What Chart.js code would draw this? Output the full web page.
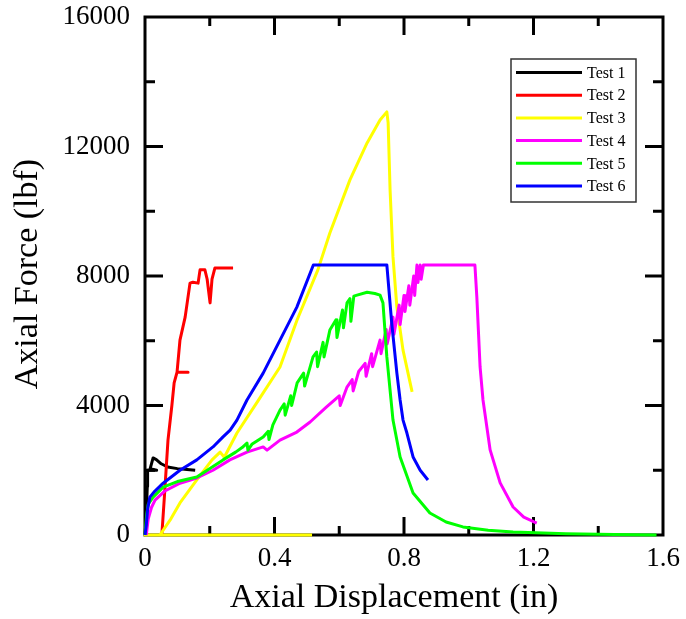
<!DOCTYPE html>
<html>
<head>
<meta charset="utf-8">
<script src="https://cdn.jsdelivr.net/npm/chart.js@4"></script>
<style>
  body { margin: 0; background: #fff; }
  canvas { display: block; }
</style>
</head>
<body>
<canvas id="chart" width="686" height="619"></canvas>
<script>
// series (x = displacement in, y = force lbf)
const testNames = ['Test 1', 'Test 2', 'Test 3', 'Test 4', 'Test 5', 'Test 6'];
const testColors = ['#000000', '#ff0000', '#ffff00', '#ff00ff', '#00ff00', '#0000ff'];

const test1X = [0, 0.004, 0.007, 0.008, 0.036, 0.016, 0.025, 0.035, 0.05, 0.07, 0.1, 0.13, 0.155];
const test1Y = [0, 600, 1500, 2000, 2000, 2050, 2380, 2330, 2200, 2100, 2050, 2020, 2000];

const test2X = [0.052, 0.06, 0.071, 0.083, 0.09, 0.099, 0.133, 0.099, 0.108, 0.124, 0.139, 0.148, 0.164, 0.17, 0.185, 0.192, 0.201, 0.207, 0.216, 0.272];
const test2Y = [0, 1200, 2930, 4000, 4700, 5030, 5030, 5030, 6020, 6730, 7780, 7810, 7780, 8190, 8190, 7900, 7170, 7900, 8250, 8250];

const test3X = [0.516, 0, 0.046, 0.08, 0.108, 0.16, 0.207, 0.232, 0.245, 0.284, 0.35, 0.417, 0.47, 0.534, 0.571, 0.633, 0.686, 0.726, 0.747, 0.751, 0.757, 0.766, 0.778, 0.797, 0.825];
const test3Y = [0, 0, 0, 500, 990, 1700, 2320, 2560, 2400, 3150, 4160, 5190, 6650, 8190, 9330, 10970, 12110, 12820, 13070, 12730, 10660, 8590, 7040, 5710, 4420];

const test4X = [0.004, 0.01, 0.02, 0.031, 0.06, 0.108, 0.16, 0.21, 0.262, 0.315, 0.365, 0.377, 0.417, 0.469, 0.51, 0.56, 0.6, 0.603, 0.624, 0.64, 0.643, 0.66, 0.68, 0.683, 0.7, 0.703, 0.726, 0.729, 0.745, 0.748, 0.766, 0.769, 0.785, 0.788, 0.8, 0.803, 0.815, 0.818, 0.83, 0.833, 0.84, 0.843, 0.85, 0.853, 0.86, 1.019, 1.025, 1.035, 1.044, 1.066, 1.097, 1.137, 1.17, 1.21];
const test4Y = [0, 500, 850, 1080, 1350, 1600, 1760, 2000, 2320, 2560, 2720, 2620, 2930, 3180, 3490, 3950, 4300, 4000, 4570, 4800, 4450, 5050, 5300, 4900, 5600, 5200, 6020, 5600, 6350, 5900, 6730, 6200, 7100, 6500, 7400, 6900, 7700, 7100, 8000, 7400, 8340, 7800, 8340, 7900, 8340, 8340, 7350, 5190, 4170, 2630, 1610, 865, 550, 370];

const test5X = [0, 0.005, 0.01, 0.025, 0.056, 0.1, 0.16, 0.241, 0.28, 0.3, 0.315, 0.318, 0.33, 0.365, 0.38, 0.383, 0.395, 0.417, 0.43, 0.433, 0.45, 0.453, 0.47, 0.49, 0.493, 0.519, 0.53, 0.533, 0.55, 0.553, 0.571, 0.59, 0.593, 0.61, 0.613, 0.624, 0.633, 0.636, 0.645, 0.655, 0.686, 0.71, 0.726, 0.735, 0.747, 0.766, 0.788, 0.828, 0.88, 0.93, 0.982, 1.06, 1.137, 1.3, 1.45, 1.58];
const test5Y = [0, 600, 950, 1170, 1480, 1650, 1790, 2320, 2560, 2700, 2840, 2620, 2800, 3030, 3200, 2950, 3400, 3860, 4050, 3700, 4300, 4000, 4700, 5000, 4600, 5500, 5650, 5200, 5950, 5500, 6330, 6650, 6100, 6950, 6400, 7170, 7300, 6600, 7380, 7410, 7500, 7460, 7410, 7170, 5500, 3550, 2410, 1300, 680, 400, 250, 150, 90, 40, 15, 0];

const test6X = [0, 0.004, 0.008, 0.015, 0.03, 0.056, 0.108, 0.16, 0.21, 0.241, 0.263, 0.284, 0.315, 0.365, 0.417, 0.469, 0.52, 0.747, 0.762, 0.778, 0.788, 0.797, 0.809, 0.828, 0.85, 0.874];
const test6Y = [0, 300, 800, 1170, 1350, 1600, 2000, 2320, 2720, 3030, 3240, 3550, 4170, 5000, 6020, 7040, 8340, 8340, 6550, 5000, 4170, 3550, 3150, 2410, 2000, 1700];

const xTicks = [0, 0.4, 0.8, 1.2, 1.6];
const yTicks = [0, 4000, 8000, 12000, 16000];
const xTitle = 'Axial Displacement (in)';
const yTitle = 'Axial Force (lbf)';

const allX = [test1X, test2X, test3X, test4X, test5X, test6X];
const allY = [test1Y, test2Y, test3Y, test4Y, test5Y, test6Y];

const serif = "'Liberation Serif', 'DejaVu Serif', serif";

const datasets = testNames.map((name, i) => ({
  label: name,
  data: allX[i].map((x, j) => ({ x: x, y: allY[i][j] })),
  borderColor: testColors[i],
  backgroundColor: testColors[i],
  borderWidth: 3,
  borderJoinStyle: 'round',
  showLine: true,
  pointRadius: 0,
  tension: 0,
  clip: false,
  order: testNames.length - i
}));

// frame + inward ticks, drawn under the curves
const framePlugin = {
  id: 'frame',
  beforeDatasetsDraw(chart) {
    const { ctx, chartArea: a, scales } = chart;
    ctx.save();
    ctx.strokeStyle = '#000';
    ctx.lineWidth = 3;
    ctx.strokeRect(a.left, a.top, a.right - a.left, a.bottom - a.top);
    ctx.beginPath();
    for (let k = 1; k < 8; k++) {
      const px = scales.x.getPixelForValue(k * 0.2);
      const len = k % 2 === 0 ? 18 : 9;
      ctx.moveTo(px, a.bottom); ctx.lineTo(px, a.bottom - len);
      ctx.moveTo(px, a.top); ctx.lineTo(px, a.top + len);
    }
    for (let k = 1; k < 8; k++) {
      const py = scales.y.getPixelForValue(k * 2000);
      const len = k % 2 === 0 ? 18 : 10;
      ctx.moveTo(a.left, py); ctx.lineTo(a.left + len, py);
      ctx.moveTo(a.right, py); ctx.lineTo(a.right - len, py);
    }
    ctx.stroke();
    ctx.restore();
  }
};

// boxed legend in the top right + axis titles
const legendPlugin = {
  id: 'boxLegend',
  afterDraw(chart) {
    const { ctx } = chart;
    ctx.save();
    const bx = 511, by = 59, bw = 125, bh = 143;
    ctx.fillStyle = '#fff';
    ctx.fillRect(bx, by, bw, bh);
    ctx.strokeStyle = '#333';
    ctx.lineWidth = 1.5;
    ctx.strokeRect(bx, by, bw, bh);
    ctx.font = '16px ' + serif;
    ctx.textBaseline = 'middle';
    chart.data.datasets.forEach((ds, i) => {
      const y = by + 13.5 + i * 22.7;
      ctx.strokeStyle = ds.borderColor;
      ctx.lineWidth = 3;
      ctx.beginPath();
      ctx.moveTo(bx + 5, y);
      ctx.lineTo(bx + 71, y);
      ctx.stroke();
      ctx.fillStyle = '#000';
      ctx.fillText(ds.label, bx + 76, y + 1);
    });

    ctx.fillStyle = '#000';
    ctx.font = '34px ' + serif;
    ctx.textAlign = 'center';
    ctx.textBaseline = 'middle';
    ctx.fillText(xTitle, 394, 598);
    ctx.translate(28, 274);
    ctx.rotate(-Math.PI / 2);
    ctx.fillText(yTitle, 0, 0);
    ctx.restore();
  }
};

new Chart(document.getElementById('chart'), {
  type: 'scatter',
  data: { datasets: datasets },
  options: {
    responsive: false,
    animation: false,
    layout: { padding: { top: 17, right: 23, left: 0, bottom: 0 } },
    plugins: {
      legend: { display: false },
      tooltip: { enabled: false }
    },
    scales: {
      x: {
        type: 'linear',
        min: 0,
        max: 1.6,
        afterFit: s => { s.height = 84; s.paddingLeft = 0; s.paddingRight = 0; },
        afterBuildTicks: s => { s.ticks = xTicks.map(v => ({ value: v })); },
        grid: { display: false, drawTicks: false },
        border: { display: false },
        ticks: {
          padding: 8,
          color: '#000',
          font: { family: serif, size: 27 },
          maxRotation: 0,
          callback: v => String(Math.round(v * 10) / 10)
        }
      },
      y: {
        type: 'linear',
        min: 0,
        max: 16000,
        afterFit: s => { s.width = 145; s.paddingTop = 0; s.paddingBottom = 0; },
        afterBuildTicks: s => { s.ticks = yTicks.map(v => ({ value: v })); },
        grid: { display: false, drawTicks: false },
        border: { display: false },
        ticks: {
          padding: 15,
          color: '#000',
          font: { family: serif, size: 27 },
          callback: v => String(v)
        }
      }
    }
  },
  plugins: [framePlugin, legendPlugin]
});
</script>
</body>
</html>
